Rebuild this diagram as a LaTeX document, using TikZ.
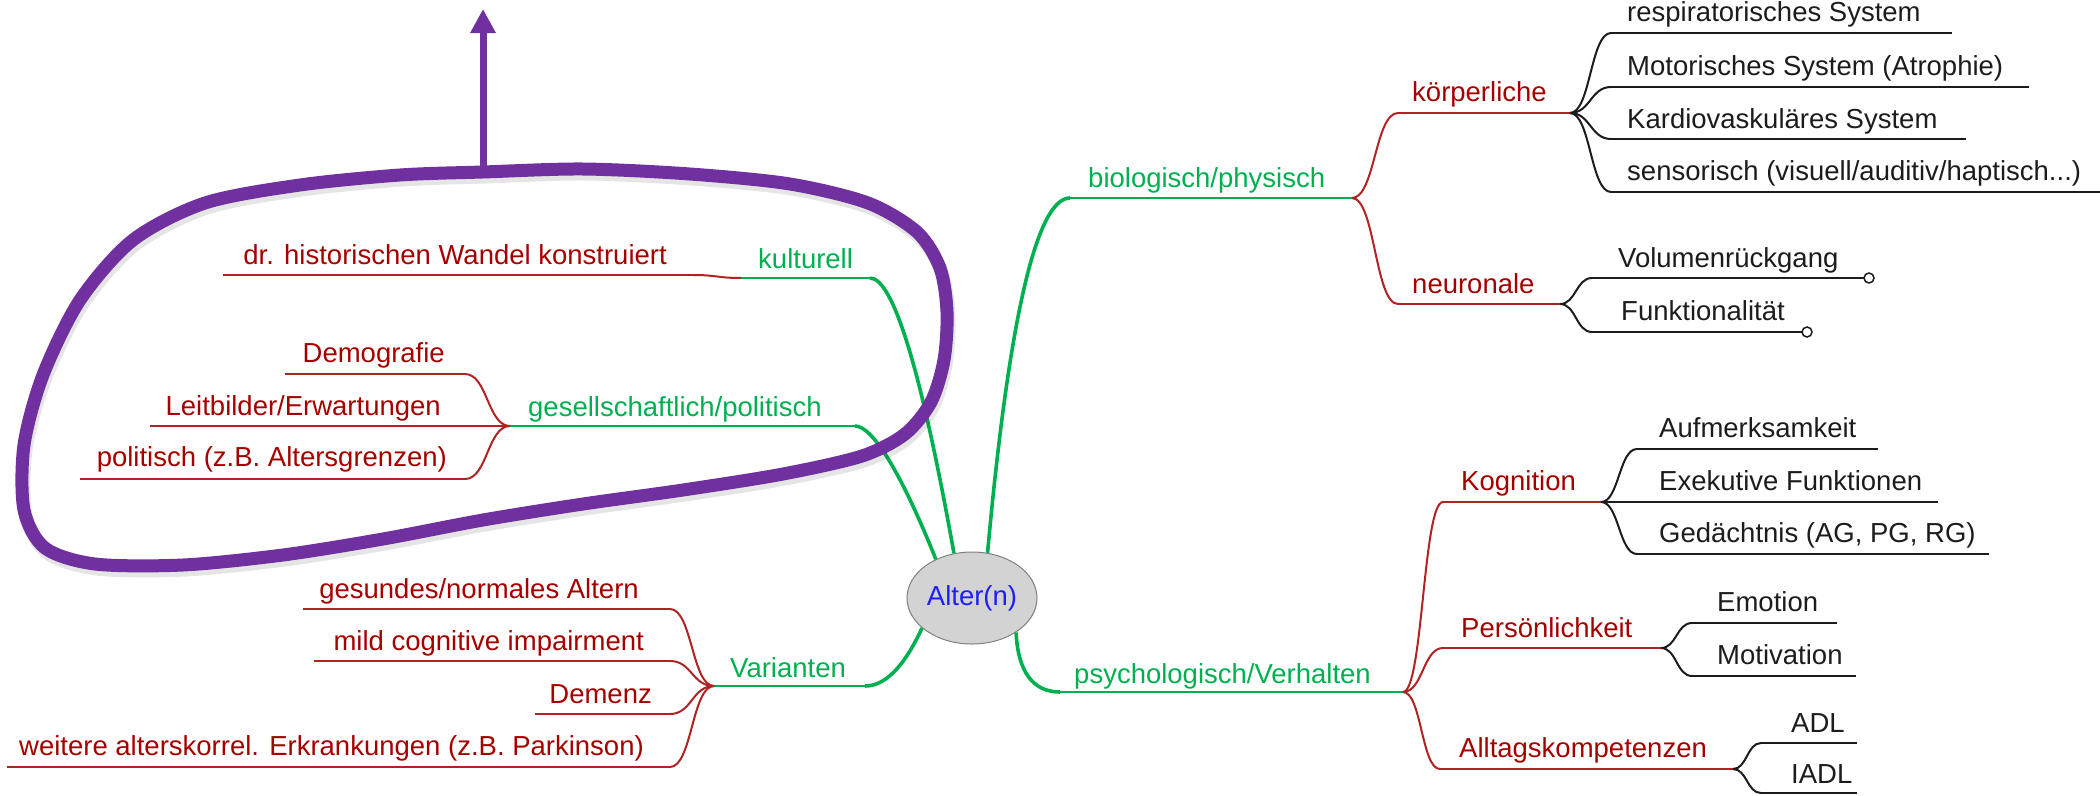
\documentclass[tikz,border=0pt]{standalone}
\usepackage{fontspec}
\setmainfont{Liberation Sans}
\usetikzlibrary{calc,shapes.geometric,arrows.meta}

\definecolor{mapgreen}{RGB}{0,176,80}
\definecolor{mapred}{RGB}{165,0,0}
\definecolor{linered}{RGB}{175,35,35}
\definecolor{mapink}{RGB}{28,28,28}
\definecolor{loopviolet}{RGB}{112,48,160}
\definecolor{rootfill}{RGB}{211,211,211}
\definecolor{rootblue}{RGB}{30,30,255}

\tikzset{
  txt/.style={font=\fontsize{27.5}{30}\selectfont, inner sep=0pt},
  gtxt/.style={txt, text=mapgreen},
  rtxt/.style={txt, text=mapred},
  ktxt/.style={txt, text=mapink},
  gline/.style={draw=mapgreen, line width=2.6pt},
  stem/.style={draw=mapgreen, line width=3.6pt},
  rline/.style={draw=linered, line width=2pt},
  kline/.style={draw=mapink, line width=2pt},
  twig/.style={to path={.. controls ($(\tikztostart)!.5!(\tikztotarget |- \tikztostart)$) and ($(\tikztotarget)!.5!(\tikztostart |- \tikztotarget)$) .. (\tikztotarget)}},
  root/.style={ellipse, draw=gray, line width=1pt, fill=rootfill, text=rootblue, txt, minimum width=130pt, minimum height=92pt},
  loopline/.style={draw=loopviolet, line width=13pt},
  loopshadow/.style={draw=black, opacity=0.1, line width=13pt},
}

\begin{document}
\begin{tikzpicture}[x=1pt,y=-1pt]
  \useasboundingbox (0,0) rectangle (2100,795);

  % centre
  \node[root] (root) at (972,598) {Alter(n)};

  % main branches
  \coordinate (bio-l) at (1070,198); \coordinate (bio-r) at (1352,198);
  \coordinate (psy-l) at (1060,692); \coordinate (psy-r) at (1403,692);
  \coordinate (var-l) at (714,686);  \coordinate (var-r) at (865,686);
  \coordinate (ges-l) at (510,426);  \coordinate (ges-r) at (855,426);
  \coordinate (kul-l) at (741,278);  \coordinate (kul-r) at (870,278);
  \draw[stem] (root.71) .. controls (1009,316) and (1037,198) .. (bio-l);
  \draw[stem] (root.112) .. controls (921,369) and (893,278) .. (kul-r);
  \draw[stem] (root.133) .. controls (900,470) and (872,426) .. (ges-r);
  \draw[stem] (root.211) .. controls (904,667) and (885,686) .. (var-r);
  \draw[stem] (root.322) .. controls (1018,672) and (1033,692) .. (psy-l);
  \draw[gline] (bio-l) -- (bio-r);
  \draw[gline] (psy-l) -- (psy-r);
  \draw[gline] (var-l) -- (var-r);
  \draw[gline] (ges-l) -- (ges-r);
  \draw[gline] (kul-l) -- (kul-r);
  \node[gtxt, anchor=base west] (bio) at (1088,187) {biologisch/physisch};
  \node[gtxt, anchor=base west] (psy) at (1074,683) {psychologisch/Verhalten};
  \node[gtxt, anchor=base west] (var) at (730,677) {Varianten};
  \node[gtxt, anchor=base west] (ges) at (528,416) {gesellschaftlich/politisch};
  \node[gtxt, anchor=base west] (kul) at (758,268) {kulturell};

  % biologisch/physisch
  \coordinate (koerp-l) at (1398,113); \coordinate (koerp-r) at (1570,113);
  \coordinate (neuro-l) at (1398,304); \coordinate (neuro-r) at (1560,304);
  \draw[rline] (koerp-l) -- (koerp-r);
  \draw[rline] (neuro-l) -- (neuro-r);
  \draw[rline] (bio-r) to[twig] (koerp-l);
  \draw[rline] (bio-r) to[twig] (neuro-l);
  \node[rtxt, anchor=base west] (koerp) at (1412,101) {körperliche};
  \node[rtxt, anchor=base west] (neuro) at (1412,293) {neuronale};

  \coordinate (resp-l) at (1611,33);  \coordinate (resp-r) at (1952,33);
  \coordinate (moto-l) at (1611,87);  \coordinate (moto-r) at (2029,87);
  \coordinate (kard-l) at (1611,139); \coordinate (kard-r) at (1966,139);
  \coordinate (sens-l) at (1611,192); \coordinate (sens-r) at (2100,192);
  \draw[kline] (resp-l) -- (resp-r);
  \draw[kline] (moto-l) -- (moto-r);
  \draw[kline] (kard-l) -- (kard-r);
  \draw[kline] (sens-l) -- (sens-r);
  \draw[kline] (koerp-r) to[twig] (resp-l);
  \draw[kline] (koerp-r) to[twig] (moto-l);
  \draw[kline] (koerp-r) to[twig] (kard-l);
  \draw[kline] (koerp-r) to[twig] (sens-l);
  \node[ktxt, anchor=base west] (resp) at (1627,21) {respiratorisches System};
  \node[ktxt, anchor=base west] (moto) at (1627,75) {Motorisches System (Atrophie)};
  \node[ktxt, anchor=base west] (kard) at (1627,128) {Kardiovaskuläres System};
  \node[ktxt, anchor=base west] (sens) at (1627,180) {sensorisch (visuell/auditiv/haptisch...)};

  \coordinate (vol-l) at (1592,278);  \coordinate (vol-r) at (1864,278);
  \coordinate (funk-l) at (1592,332); \coordinate (funk-r) at (1802,332);
  \draw[kline] (vol-l) -- (vol-r);
  \draw[kline] (funk-l) -- (funk-r);
  \draw[kline] (neuro-r) to[twig] (vol-l);
  \draw[kline] (neuro-r) to[twig] (funk-l);
  \draw[kline, line width=1.5pt, fill=white] ($(vol-r)+(5,0)$) circle[radius=5pt];
  \draw[kline, line width=1.5pt, fill=white] ($(funk-r)+(5,0)$) circle[radius=5pt];
  \node[ktxt, anchor=base west] (vol) at (1618,267) {Volumenrückgang};
  \node[ktxt, anchor=base west] (funk) at (1621,320) {Funktionalität};

  % psychologisch/Verhalten
  \coordinate (kog-l) at (1443,502);  \coordinate (kog-r) at (1601,502);
  \coordinate (pers-l) at (1443,648); \coordinate (pers-r) at (1661,648);
  \coordinate (allt-l) at (1440,769); \coordinate (allt-r) at (1733,769);
  \draw[rline] (kog-l) -- (kog-r);
  \draw[rline] (pers-l) -- (pers-r);
  \draw[rline] (allt-l) -- (allt-r);
  \draw[rline] (psy-r) to[twig] (kog-l);
  \draw[rline] (psy-r) to[twig] (pers-l);
  \draw[rline] (psy-r) to[twig] (allt-l);
  \node[rtxt, anchor=base west] (kog) at (1461,490) {Kognition};
  \node[rtxt, anchor=base west] (pers) at (1461,637) {Persönlichkeit};
  \node[rtxt, anchor=base west] (allt) at (1459,757) {Alltagskompetenzen};

  \coordinate (aufm-l) at (1637,449);  \coordinate (aufm-r) at (1878,449);
  \coordinate (exek-l) at (1637,502);  \coordinate (exek-r) at (1938,502);
  \coordinate (gedae-l) at (1637,554); \coordinate (gedae-r) at (1989,554);
  \draw[kline] (aufm-l) -- (aufm-r);
  \draw[kline] (exek-l) -- (exek-r);
  \draw[kline] (gedae-l) -- (gedae-r);
  \draw[kline] (kog-r) to[twig] (aufm-l);
  \draw[kline] (kog-r) to[twig] (exek-l);
  \draw[kline] (kog-r) to[twig] (gedae-l);
  \node[ktxt, anchor=base west] (aufm) at (1659,437) {Aufmerksamkeit};
  \node[ktxt, anchor=base west] (exek) at (1659,490) {Exekutive Funktionen};
  \node[ktxt, anchor=base west] (gedae) at (1659,542) {Gedächtnis (AG, PG, RG)};

  \coordinate (emo-l) at (1692,623);  \coordinate (emo-r) at (1837,623);
  \coordinate (moti-l) at (1692,676); \coordinate (moti-r) at (1856,676);
  \draw[kline] (emo-l) -- (emo-r);
  \draw[kline] (moti-l) -- (moti-r);
  \draw[kline] (pers-r) to[twig] (emo-l);
  \draw[kline] (pers-r) to[twig] (moti-l);
  \node[ktxt, anchor=base west] (emo) at (1717,611) {Emotion};
  \node[ktxt, anchor=base west] (moti) at (1717,664) {Motivation};

  \coordinate (adl-l) at (1761,743);  \coordinate (adl-r) at (1857,743);
  \coordinate (iadl-l) at (1761,793); \coordinate (iadl-r) at (1857,793);
  \draw[kline] (adl-l) -- (adl-r);
  \draw[kline] (iadl-l) -- (iadl-r);
  \draw[kline] (allt-r) to[twig] (adl-l);
  \draw[kline] (allt-r) to[twig] (iadl-l);
  \node[ktxt, anchor=base west] (adl) at (1791,732) {ADL};
  \node[ktxt, anchor=base west] (iadl) at (1791,783) {IADL};

  % kulturell
  \coordinate (hist-l) at (223,275); \coordinate (hist-r) at (693,275);
  \draw[rline] (hist-l) -- (hist-r);
  \draw[rline] (kul-l) to[twig] (hist-r);
  \node[rtxt, anchor=base east] (hist) at (667,264) {dr. historischen Wandel konstruiert};

  % gesellschaftlich/politisch
  \coordinate (demo-l) at (285,374); \coordinate (demo-r) at (465,374);
  \coordinate (leit-l) at (150,426); \coordinate (leit-r) at (465,426);
  \coordinate (poli-l) at (80,479);  \coordinate (poli-r) at (465,479);
  \draw[rline] (demo-l) -- (demo-r);
  \draw[rline] (leit-l) -- (leit-r);
  \draw[rline] (poli-l) -- (poli-r);
  \draw[rline] (ges-l) to[twig] (demo-r);
  \draw[rline] (ges-l) to[twig] (leit-r);
  \draw[rline] (ges-l) to[twig] (poli-r);
  \node[rtxt, anchor=base east] (demo) at (445,362) {Demografie};
  \node[rtxt, anchor=base east] (leit) at (441,415) {Leitbilder/Erwartungen};
  \node[rtxt, anchor=base east] (poli) at (447,466) {politisch (z.B. Altersgrenzen)};

  % Varianten
  \coordinate (gesund-l) at (303,609); \coordinate (gesund-r) at (670,609);
  \coordinate (mci-l) at (314,661);    \coordinate (mci-r) at (670,661);
  \coordinate (dem-l) at (535,714);    \coordinate (dem-r) at (670,714);
  \coordinate (weit-l) at (7,767);     \coordinate (weit-r) at (670,767);
  \draw[rline] (gesund-l) -- (gesund-r);
  \draw[rline] (mci-l) -- (mci-r);
  \draw[rline] (dem-l) -- (dem-r);
  \draw[rline] (weit-l) -- (weit-r);
  \draw[rline] (var-l) to[twig] (gesund-r);
  \draw[rline] (var-l) to[twig] (mci-r);
  \draw[rline] (var-l) to[twig] (dem-r);
  \draw[rline] (var-l) to[twig] (weit-r);
  \node[rtxt, anchor=base east] (gesund) at (639,598) {gesundes/normales Altern};
  \node[rtxt, anchor=base east] (mci) at (644,650) {mild cognitive impairment};
  \node[rtxt, anchor=base east] (dem) at (652,703) {Demenz};
  \node[rtxt, anchor=base east] (weit) at (644,755) {weitere alterskorrel. Erkrankungen (z.B. Parkinson)};

  % Markierung
  \draw[loopshadow, shift={(2,5)}] plot[smooth cycle] coordinates {
    (483,172) (583,169) (690,174) (790,184) (868,203) (917,232) (940,268)
    (947,312) (944,360) (931,402) (905,434) (862,456) (783,474) (683,490)
    (583,504) (483,520) (383,539) (283,555) (183,565) (95,564) (45,548)
    (24,510) (24,445) (43,375) (80,300) (133,240) (205,203) (300,185) (400,175)};
  \draw[loopline] plot[smooth cycle] coordinates {
    (483,172) (583,169) (690,174) (790,184) (868,203) (917,232) (940,268)
    (947,312) (944,360) (931,402) (905,434) (862,456) (783,474) (683,490)
    (583,504) (483,520) (383,539) (283,555) (183,565) (95,564) (45,548)
    (24,510) (24,445) (43,375) (80,300) (133,240) (205,203) (300,185) (400,175)};
  \coordinate (arr-foot) at (483,170); \coordinate (arr-tip) at (483,9);
  \draw[draw=loopviolet, line width=7pt, -{Triangle[width=24pt,length=24pt]}] (arr-foot) -- (arr-tip);
\end{tikzpicture}
\end{document}
